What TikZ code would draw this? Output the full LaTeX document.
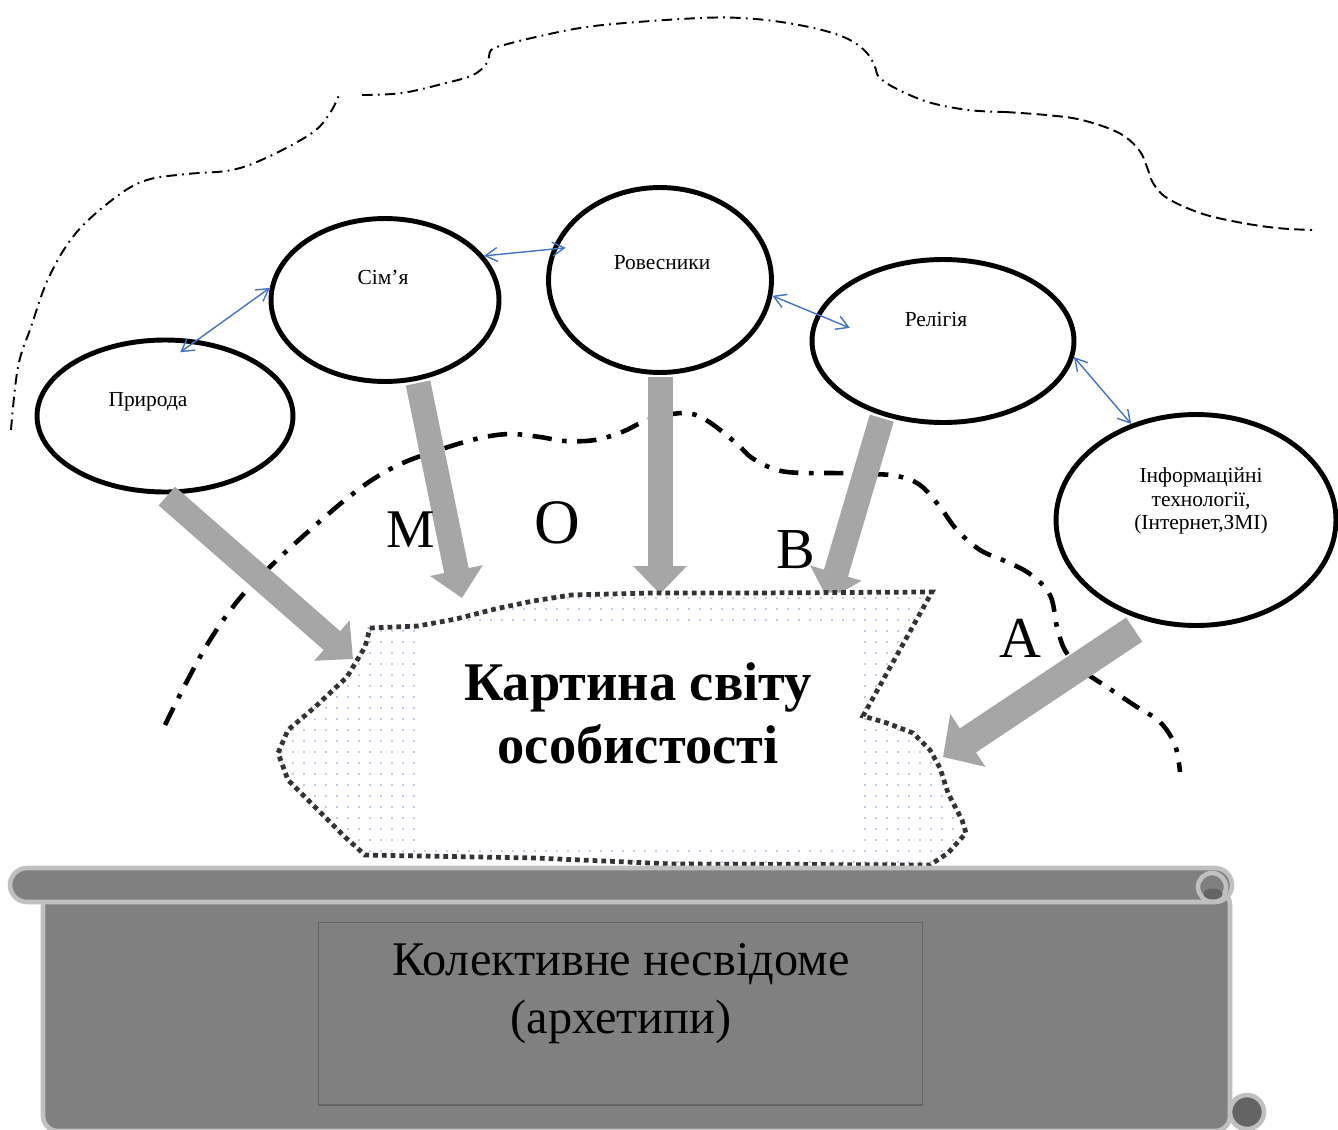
\documentclass[tikz,border=0pt]{standalone}
\usepackage{fontspec}
\setmainfont{Liberation Serif}
\usetikzlibrary{shapes.geometric, arrows.meta}

\definecolor{linkblue}{RGB}{68,114,196}
\definecolor{arrowgray}{RGB}{166,166,166}
\definecolor{scrollfill}{RGB}{128,128,128}
\definecolor{scrolledge}{RGB}{192,192,192}
\definecolor{scrolldark}{RGB}{100,100,100}
\definecolor{dotblue}{RGB}{120,160,220}

% outline of the "picture of the world" cloud
\newcommand{\cloudoutline}{(370,628) -- (418,626) -- (456,619) -- (495,609) -- (533,601) -- (571,595) -- (650,593) -- (750,593) -- (932,592) -- (863,716) -- (887,723) -- (913,733) -- (930,750) -- (940,768) -- (948,793) -- (962,820) -- (966,833) -- (948,853) -- (930,865) -- (673,864) -- (535,858) -- (365,855) -- (345,837) -- (315,807) -- (288,780) -- (278,753) -- (288,730) -- (315,707) -- (347,677) -- (365,647) -- cycle}

\begin{document}
\begin{tikzpicture}[x=0.02cm, y=-0.02cm,
    bubble/.style     = {ellipse, draw, line width=2.8pt, inner sep=0pt},
    bubbletext/.style = {inner sep=0pt, align=center, font=\fontsize{12.2}{13.2}\selectfont},
    link/.style       = {draw=linkblue, line width=0.8pt, {Straight Barb[length=2.4mm,width=2.8mm]}-{Straight Barb[length=2.4mm,width=2.8mm]}},
    influence/.style  = {draw=arrowgray, line width=0.5cm, -{Triangle[length=0.56cm,width=1.04cm]}, shorten <=1.4pt},
    letter/.style     = {inner sep=0pt, font=\fontsize{33}{36}\selectfont},
    outerline/.style  = {line width=1.1pt, dash pattern=on 6pt off 3pt on 1pt off 3pt},
    outerdash/.style  = {line width=1.1pt, dash pattern=on 6pt off 3pt},
    innerline/.style  = {line width=2.6pt, dash pattern=on 11pt off 6pt on 2.6pt off 6pt},
    cloudedge/.style  = {draw=black!80, line width=2.7pt, dash pattern=on 2.7pt off 2.3pt},
    scrollpart/.style = {fill=scrollfill, draw=scrolledge, line width=2.6pt}
  ]
  \useasboundingbox (0,0) rectangle (1338,1129);

  % Boundaries
  \draw[outerline] plot[smooth, tension=0.6] coordinates {(11,430) (18,367) (31,327) (49,277) (76,233) (116,197) (147,180) (187,174) (232,170) (268,157) (312,133) (330,113) (339,95)};
  \draw[outerline] plot[smooth, tension=0.6] coordinates {(362,95) (402,93) (446,83) (473,75) (487,63) (491,50) (504,45) (536,37) (580,28) (625,23) (700,18) (741,18) (781,22) (822,30) (850,40) (867,53) (875,67) (879,77) (895,88) (928,102) (968,110) (1005,112)};
  \draw[outerdash] plot[smooth, tension=0.6] coordinates {(1005,112) (1046,115) (1082,120) (1119,133) (1139,150) (1147,167) (1153,183) (1167,198) (1200,213) (1237,222) (1277,228) (1312,230)};
  \draw[innerline] plot[smooth, tension=0.6] coordinates {(165,725) (185,685) (210,640) (240,598) (275,562) (310,530) (345,500) (375,478) (405,462) (445,448) (480,438) (510,434) (540,437) (565,441) (595,440) (622,432) (648,420) (683,413) (706,420) (736,443) (752,458) (777,470) (803,473) (833,473) (870,474) (897,476) (920,485) (940,507) (957,530) (980,550) (1005,561) (1030,574) (1050,595) (1057,627) (1066,652) (1085,672) (1107,687) (1137,707) (1160,722) (1175,745) (1180,772)};

  % Factors
  \node[bubble, minimum width=5.12cm, minimum height=3.04cm] (pryroda)   at (165,416) {};
  \node[bubble, minimum width=4.56cm, minimum height=3.26cm] (simia)     at (385,300) {};
  \node[bubble, minimum width=4.46cm, minimum height=3.70cm] (rovesnyky) at (660,280) {};
  \node[bubble, minimum width=5.24cm, minimum height=3.26cm] (religia)   at (943,341) {};
  \node[bubble, minimum width=5.60cm, minimum height=4.22cm] (info)      at (1196,520) {};
  \node[bubbletext] (pryroda-t)   at (148,402) {Природа};
  \node[bubbletext] (simia-t)     at (383,277) {Сім’я};
  \node[bubbletext] (rovesnyky-t) at (662,263) {Ровесники};
  \node[bubbletext] (religia-t)   at (936,320) {Релігія};
  \node[bubbletext] (info-t)      at (1201,501) {Інформаційні\\технології,\\(Інтернет,ЗМІ)};

  % Links between factors
  \draw[link, shorten <=-0.42cm] (pryroda.67) -- (simia.174);
  \draw[link, shorten >=-0.27cm] (simia.24) -- (rovesnyky.164);
  \draw[link, shorten >=-0.72cm] (rovesnyky.-8) -- (religia.168);
  \draw[link] (religia.-7) -- (info.124);

  % Influences
  \coordinate (tipP) at (353,659);
  \coordinate (tipS) at (462,598);
  \coordinate (tipR) at (660,594);
  \coordinate (tipL) at (828,600);
  \coordinate (tipI) at (943,757);
  \draw[influence] (pryroda.south) -- (tipP);
  \draw[influence] (simia.-68) -- (tipS);
  \draw[influence] (rovesnyky.south) -- (tipR);
  \draw[influence] (religia.-129) -- (tipL);
  \draw[influence, line width=0.58cm, -{Triangle[length=0.6cm,width=1.24cm]}, shorten <=0.3cm] (info.-116) -- (tipI);

  % Picture of the world
  \begin{scope}
    \clip \cloudoutline;
    \fill[white] (270,585) rectangle (975,870);
    \foreach \x in {282,293,...,970}
      \foreach \y in {598,609,...,866}
        \fill[dotblue] (\x,\y) circle[radius=0.45pt];
    \fill[white] (415,624) rectangle (862,843);
  \end{scope}
  \draw[cloudedge] \cloudoutline;
  \node[font=\bfseries\fontsize{31}{35.8}\selectfont, align=center, inner sep=0pt] (world) at (638,713) {Картина світу\\особистості};

  % Letters
  \node[letter, font=\fontsize{31}{34}\selectfont] (m) at (411,530) {М};
  \node[letter, font=\fontsize{36}{40}\selectfont] (o) at (557,523) {О};
  \node[letter] (v) at (796,550) {В};
  \node[letter] (a) at (1020,638) {А};

  % Scroll
  \draw[scrollpart, rounded corners=0.3cm] (43,890) -- (43,1131) -- (1230,1131) -- (1230,890) -- cycle;
  \draw[scrollpart, rounded corners=0.34cm] (10,868) rectangle (1232,902);
  \draw[scrollpart] (1212,887) circle[radius=0.28cm];
  \fill[scrolldark] (1213,894) ellipse[x radius=0.19cm, y radius=0.11cm];
  \draw[scrollpart, fill=scrolldark] (1247,1112) circle[radius=0.34cm];
  \node[draw=scrolldark, line width=0.6pt, minimum width=12.1cm, minimum height=3.66cm, inner sep=0pt] (archbox) at (620.5,1013.5) {};
  \node[font=\fontsize{27.5}{33}\selectfont, align=center, inner sep=0pt] (archtext) at (621,994) {Колективне несвідоме\\(архетипи)};
\end{tikzpicture}
\end{document}
